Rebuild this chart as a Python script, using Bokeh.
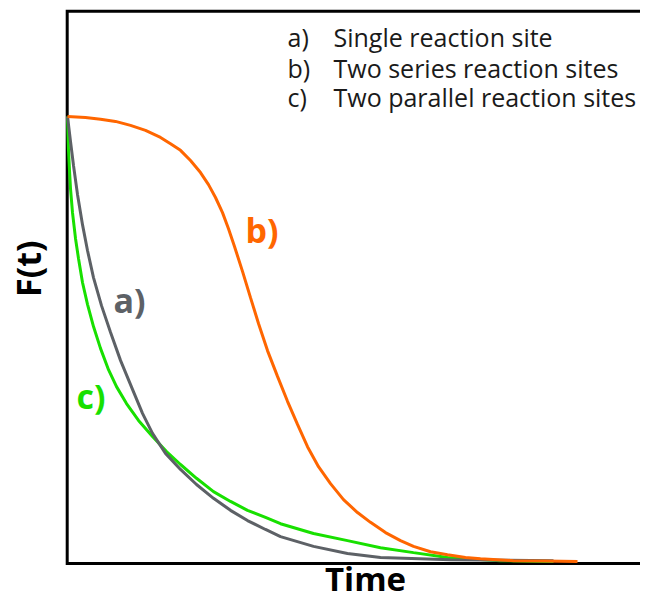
import math
from bokeh.plotting import figure
from bokeh.models import Range1d, Label
from bokeh.core.properties import value
from bokeh.embed import file_html
from bokeh.resources import INLINE

# ---- data ----
# a) Single reaction site
t_a = [0.00, 0.06, 0.12, 0.20, 0.30, 0.40, 0.52, 0.68, 0.86, 1.06, 1.30, 1.50,
       1.70, 1.96, 2.26, 2.58, 2.92, 3.26, 3.60, 3.96, 4.26, 4.92, 5.60, 6.26,
       7.66, 9.72]
F_a = [1.000, 0.944, 0.890, 0.825, 0.757, 0.699, 0.638, 0.575, 0.515, 0.452,
       0.387, 0.333, 0.288, 0.243, 0.207, 0.173, 0.142, 0.115, 0.092, 0.072,
       0.056, 0.034, 0.018, 0.009, 0.004, 0.002]

# b) Two series reaction sites
t_b = [0.00, 0.36, 0.66, 0.96, 1.26, 1.56, 1.86, 2.06, 2.26, 2.46, 2.66, 2.82,
       2.96, 3.10, 3.22, 3.34, 3.50, 3.66, 3.82, 4.00, 4.20, 4.40, 4.60, 4.80,
       5.02, 5.26, 5.52, 5.80, 6.06, 6.36, 6.66, 6.92, 7.26, 7.60, 7.96, 8.26,
       8.92, 9.56, 10.20]
F_b = [1.000, 0.998, 0.994, 0.989, 0.980, 0.969, 0.953, 0.939, 0.924, 0.901,
       0.874, 0.847, 0.818, 0.784, 0.748, 0.708, 0.652, 0.593, 0.535, 0.474,
       0.416, 0.360, 0.308, 0.258, 0.213, 0.175, 0.139, 0.110, 0.088, 0.065,
       0.047, 0.034, 0.022, 0.015, 0.009, 0.006, 0.002, 0.001, 0.000]

# c) Two parallel reaction sites
t_c = [0.00, 0.02, 0.04, 0.06, 0.10, 0.16, 0.22, 0.30, 0.40, 0.52, 0.66, 0.82,
       0.98, 1.18, 1.42, 1.70, 1.98, 2.26, 2.58, 2.92, 3.26, 3.60, 3.96, 4.26,
       4.92, 5.60, 6.26, 6.92, 7.60, 8.66, 9.72]
F_c = [1.000, 0.924, 0.879, 0.838, 0.784, 0.726, 0.681, 0.627, 0.578, 0.528,
       0.479, 0.431, 0.393, 0.355, 0.317, 0.281, 0.247, 0.218, 0.187, 0.157,
       0.135, 0.115, 0.099, 0.085, 0.063, 0.047, 0.031, 0.020, 0.009, 0.002,
       0.000]

legend_keys = ["a)", "b)", "c)"]
legend_texts = ["Single reaction site", "Two series reaction sites",
                "Two parallel reaction sites"]
x_title = "Time"
y_title = "F(t)"

GRAY = "#5d6166"
ORANGE = "#ff6600"
GREEN = "#18e000"
FONT = "Open Sans"

# plot box (axes frame) limits in data units
T_LEFT, T_RIGHT = -0.006, 11.46
F_BOTTOM, F_TOP = -0.0045, 1.2366

p = figure(width=640, height=600, output_backend="svg", toolbar_location=None,
           x_range=Range1d(-1.34, 11.46), y_range=Range1d(-0.0876, 1.2607),
           x_axis_location=None, y_axis_location=None,
           min_border_left=0, min_border_right=0, min_border_top=0,
           min_border_bottom=0)
p.outline_line_color = None
p.grid.grid_line_color = None
p.background_fill_color = "white"
p.border_fill_color = "white"

# open box: top, left and bottom edges
p.line([T_RIGHT, T_LEFT, T_LEFT, T_RIGHT], [F_TOP, F_TOP, F_BOTTOM, F_BOTTOM],
       line_color="black", line_width=3, line_join="miter")

# axis titles
p.add_layout(Label(x=5.96, y=-0.038, text=x_title, text_font=FONT,
                   text_font_style="bold", text_font_size="33px",
                   text_color="black", text_align="center",
                   text_baseline="middle"))
p.add_layout(Label(x=-0.80, y=0.658, text=y_title, text_font=FONT,
                   text_font_style="bold", text_font_size="34px",
                   text_color="black", text_align="center",
                   text_baseline="middle", angle=math.pi / 2))

# curves
p.line(t_c, F_c, line_color=GREEN, line_width=3)
p.line(t_a, F_a, line_color=GRAY, line_width=3)
p.line(t_b, F_b, line_color=ORANGE, line_width=3)

# curve labels
p.text(x=[0.92], y=[0.587], text=["a)"], text_color=GRAY, text_font=value(FONT),
       text_font_style="bold", text_font_size="34px", text_baseline="middle")
p.text(x=[3.56], y=[0.744], text=["b)"], text_color=ORANGE, text_font=value(FONT),
       text_font_style="bold", text_font_size="34px", text_baseline="middle")
p.text(x=[0.18], y=[0.373], text=["c)"], text_color=GREEN, text_font=value(FONT),
       text_font_style="bold", text_font_size="34px", text_baseline="middle")

# legend block
rows_y = [1.178, 1.110, 1.043]
p.text(x=[4.40] * 3, y=rows_y, text=legend_keys, text_color="#1a1a1a",
       text_font=value(FONT), text_font_size="25px", text_baseline="middle")
p.text(x=[5.32] * 3, y=rows_y, text=legend_texts, text_color="#1a1a1a",
       text_font=value(FONT), text_font_size="25px", text_baseline="middle")

open("out.html", "w").write(file_html(p, INLINE))
